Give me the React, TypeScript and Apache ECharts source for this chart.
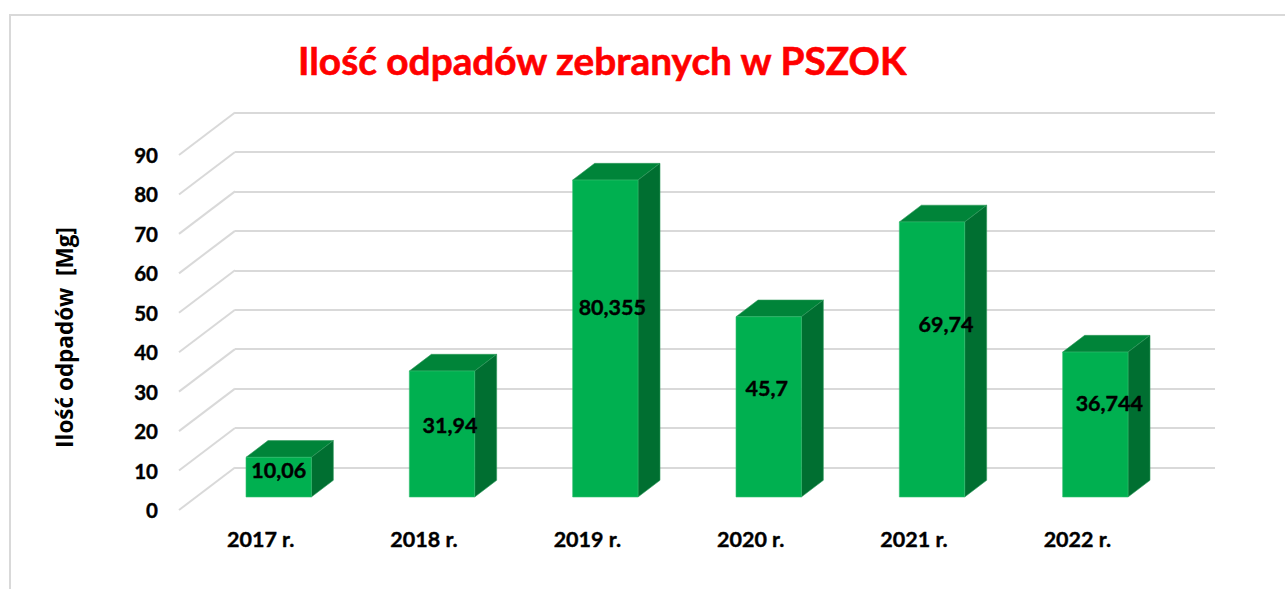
import React, { useEffect, useRef } from "react";
import * as echarts from "echarts";

const TITLE = "Ilość odpadów zebranych w PSZOK";
const Y_NAME = "Ilość odpadów  [Mg]";
const CATEGORIES = ["2017 r.", "2018 r.", "2019 r.", "2020 r.", "2021 r.", "2022 r."];
const VALUES = [10.06, 31.94, 80.355, 45.7, 69.74, 36.744];
const Y_TICKS = [0, 10, 20, 30, 40, 50, 60, 70, 80, 90];

const FONT = "Lato";
const WALL_DX = 56;
const WALL_DY = 42.5;
const BAR_DX = 22;
const BAR_DY = 16.7;
const BAR_SHIFT_X = 18;
const BAR_SHIFT_Y = 13;
const BAR_RATIO = 0.4;
const LABEL_SHIFT = [
  [0, -7],
  [8, -9],
  [7, -32],
  [-2, -19],
  [14, -35],
  [14, -22],
];
const HEAVY = { textBorderColor: "#000", textBorderWidth: 0.4 };

export default function App() {
  const ref = useRef<HTMLDivElement>(null);
  useEffect(() => {
    document.body.style.margin = "0";
    const chart = echarts.init(ref.current!, undefined, { renderer: "svg" });
    const hiddenCat = {
      type: "category" as const,
      data: CATEGORIES,
      axisLine: { show: false },
      axisTick: { show: false },
    };
    chart.setOption({
      animation: false,
      backgroundColor: "#fff",
      textStyle: { fontFamily: FONT },
      title: {
        text: TITLE,
        left: 293,
        top: 35,
        textStyle: {
          color: "#ff0000",
          fontSize: 38.8,
          fontWeight: "bold",
          fontFamily: FONT,
          textBorderColor: "#ff0000",
          textBorderWidth: 0.6,
        },
      },
      graphic: [
        {
          type: "polyline",
          silent: true,
          shape: { points: [[10, 589], [10, 15], [1285, 15]] },
          style: { stroke: "#d9d9d9", lineWidth: 2, fill: "none" },
        },
      ],
      grid: [
        { left: 179, top: 155, width: 980, height: 355 },
        { left: 235, top: 112.5, width: 980, height: 355 },
      ],
      xAxis: [
        {
          ...hiddenCat,
          gridIndex: 0,
          axisLabel: { color: "#000", fontSize: 21.5, fontWeight: "bold", fontFamily: FONT, margin: 18, ...HEAVY },
        },
        { ...hiddenCat, gridIndex: 1, axisLabel: { show: false } },
      ],
      yAxis: [
        {
          type: "value",
          gridIndex: 0,
          min: 0,
          max: 90,
          interval: 10,
          name: Y_NAME,
          nameLocation: "middle",
          nameGap: 103,
          nameTextStyle: {
            color: "#000",
            fontSize: 22.5,
            fontWeight: "bold",
            fontFamily: "Open Sans",
            padding: [0, 10, 0, 0],
          },
          axisLine: { show: false },
          axisTick: { show: false },
          splitLine: { show: false },
          axisLabel: { color: "#000", fontSize: 20.5, fontWeight: "bold", fontFamily: FONT, margin: 21, ...HEAVY },
        },
        {
          type: "value",
          gridIndex: 1,
          min: 0,
          max: 90,
          interval: 10,
          axisLine: { show: false },
          axisTick: { show: false },
          axisLabel: { show: false },
          splitLine: { show: true, lineStyle: { color: "#d9d9d9", width: 2 } },
        },
      ],
      series: [
        {
          type: "custom",
          xAxisIndex: 0,
          yAxisIndex: 0,
          silent: true,
          z: 1,
          data: Y_TICKS.map((t) => [0, t]),
          encode: { x: 0, y: 1 },
          renderItem: (params: any, api: any) => {
            const y = api.coord([0, api.value(1)])[1];
            const x = params.coordSys.x;
            return {
              type: "line",
              shape: { x1: x, y1: y, x2: x + WALL_DX, y2: y - WALL_DY },
              style: { stroke: "#d9d9d9", lineWidth: 2 },
            };
          },
        },
        {
          type: "custom",
          xAxisIndex: 0,
          yAxisIndex: 0,
          silent: true,
          z: 3,
          data: VALUES.map((v, i) => [i, v]),
          encode: { x: 0, y: 1 },
          renderItem: (params: any, api: any) => {
            const i = api.value(0);
            const top = api.coord([i, api.value(1)]);
            const base = api.coord([i, 0]);
            const w = api.size([1, 0])[0] * BAR_RATIO;
            const l = top[0] - w / 2 + BAR_SHIFT_X;
            const r = l + w;
            const t = top[1] - BAR_SHIFT_Y;
            const b = base[1] - BAR_SHIFT_Y;
            const edge = { lineWidth: 0.6 };
            const [sx, sy] = LABEL_SHIFT[i];
            return {
              type: "group",
              children: [
                {
                  type: "polygon",
                  shape: { points: [[l, t], [l + BAR_DX, t - BAR_DY], [r + BAR_DX, t - BAR_DY], [r, t]] },
                  style: { fill: "#008439", stroke: "#2f9a5c", ...edge },
                },
                {
                  type: "polygon",
                  shape: { points: [[r, t], [r + BAR_DX, t - BAR_DY], [r + BAR_DX, b - BAR_DY], [r, b]] },
                  style: { fill: "#006f31", stroke: "#2f9a5c", ...edge },
                },
                {
                  type: "rect",
                  shape: { x: l, y: t, width: w, height: b - t },
                  style: { fill: "#00b050", stroke: "#33c070", ...edge },
                },
                {
                  type: "text",
                  style: {
                    text: String(VALUES[i]).replace(".", ","),
                    x: (l + r) / 2 + sx,
                    y: (t + b) / 2 + sy,
                    textAlign: "center",
                    textVerticalAlign: "middle",
                    fill: "#000",
                    font: `bold 21.5px ${FONT}`,
                    stroke: "#000",
                    lineWidth: 0.4,
                  },
                },
              ],
            };
          },
        },
      ],
    });
    return () => chart.dispose();
  }, []);
  return <div ref={ref} style={{ width: 1285, height: 589 }} />;
}
